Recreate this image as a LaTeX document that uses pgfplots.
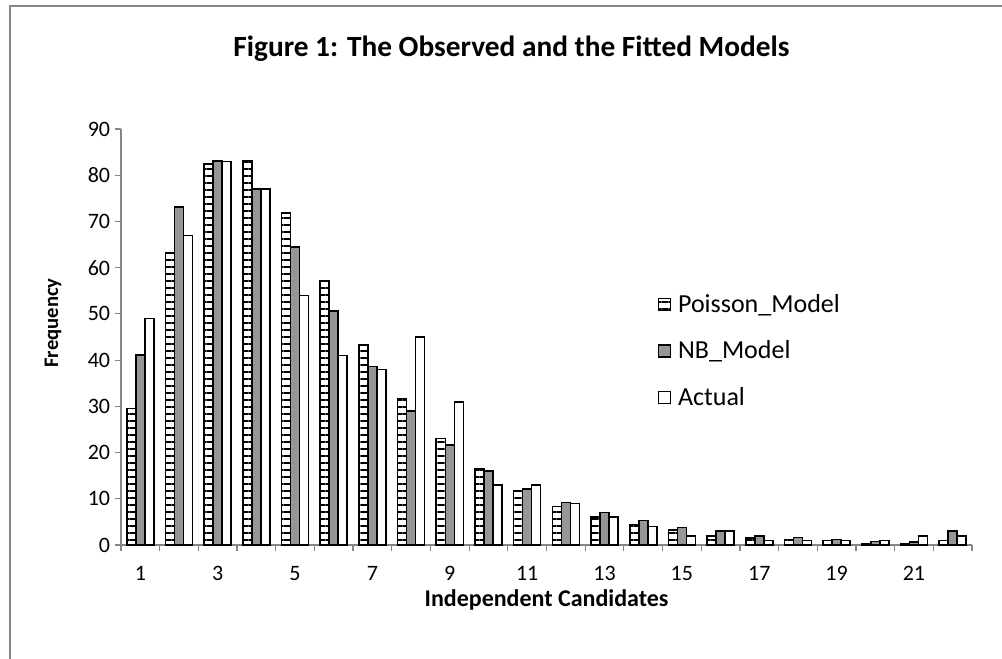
\documentclass[border=0pt]{standalone}
\usepackage{pgfplots}
\pgfplotsset{compat=1.18}
\usepackage{pgfplotstable}
\usetikzlibrary{patterns.meta}
\usepackage{fontspec}
\setmainfont{Carlito}
\definecolor{axgray}{RGB}{134,134,134}
\definecolor{nbgray}{RGB}{150,150,150}

\pgfplotstableread{
x P NB A
1 29.5 41.1 49
2 63.2 73.1 67
3 82.4 83.1 83
4 83.1 77.0 77
5 71.8 64.5 54
6 57.1 50.6 41
7 43.3 38.6 38
8 31.7 29.0 45
9 23.0 21.7 31
10 16.5 16.0 13
11 11.7 12.1 13
12 8.3 9.2 9
13 6.1 7.0 6
14 4.4 5.3 4
15 3.2 3.8 2
16 2.0 3.0 3
17 1.5 2.0 1
18 1.2 1.6 1
19 1.0 1.2 1
20 0.3 0.8 1
21 0.3 0.6 2
22 1.0 3.0 2
}\data

\begin{document}
\begin{tikzpicture}
\draw[axgray, line width=1.6pt] (7.5pt,-500pt) -- (7.5pt,-4.2pt) -- (760pt,-4.2pt);
\begin{axis}[
  at={(90.75pt,-408.75pt)}, anchor=south west,
  scale only axis, width=638.25pt, height=312pt,
  xmin=0.5, xmax=22.5, ymin=0, ymax=90,
  ybar=0pt, bar width=0.2327,
  axis x line*=bottom, axis y line*=left,
  axis line style={axgray, line width=0.9pt},
  tick style={axgray, line width=0.9pt},
  major tick length=4.5pt, tick align=outside,
  ytick={0,10,...,90},
  yticklabel={\fontsize{16.5}{19}\selectfont\pgfmathprintnumber{\tick}},
  xtick={0.5,1.5,...,22.5}, xticklabels={},
  extra x ticks={1,3,...,21},
  extra x tick labels={1,3,5,7,9,11,13,15,17,19,21},
  extra x tick style={major tick length=0pt, xticklabel style={text height=10.5pt, text depth=0pt, yshift=-12.5pt}},
  /pgf/number format/assume math mode=true,
  tick label style={font=\fontsize{16.5}{19}\selectfont, black},
  yticklabel style={anchor=east, inner sep=0pt, xshift=-3.5pt},
  legend style={at={(0.631,0.61)}, anchor=north west, draw=none, fill=none,
    font=\fontsize{19.5}{23}\selectfont, row sep=16pt, inner sep=0pt,
    column sep=3pt},
  legend cell align=left,
  legend image code/.code={\draw[#1, line width=0.9pt] (0pt,-4.5pt) rectangle (9pt,4.5pt);},
]
\addplot[draw=black, line width=1.2pt, pattern={Lines[angle=0,distance=5.25pt,line width=1.6pt]}, pattern color=black] table[x=x,y=P] {\data};
\addplot[draw=black, line width=1.2pt, fill=nbgray] table[x=x,y=NB] {\data};
\addplot[draw=black, line width=1.2pt, fill=white] table[x=x,y=A] {\data};
\legend{Poisson\_Model, NB\_Model, Actual}
\end{axis}
\node[font=\bfseries\fontsize{22}{26}\selectfont, anchor=base] at (383.6pt,-42.75pt) {Figure 1: The Observed and the Fitted Models};
\node[font=\bfseries\fontsize{15.5}{18}\selectfont, rotate=90] at (39.75pt,-242.25pt) {Frequency};
\node[font=\bfseries\fontsize{18}{21}\selectfont] at (409.9pt,-450pt) {Independent Candidates};
\pgfresetboundingbox
\path[use as bounding box] (0,0) rectangle (751.5pt,-494.25pt);
\end{tikzpicture}
\end{document}
